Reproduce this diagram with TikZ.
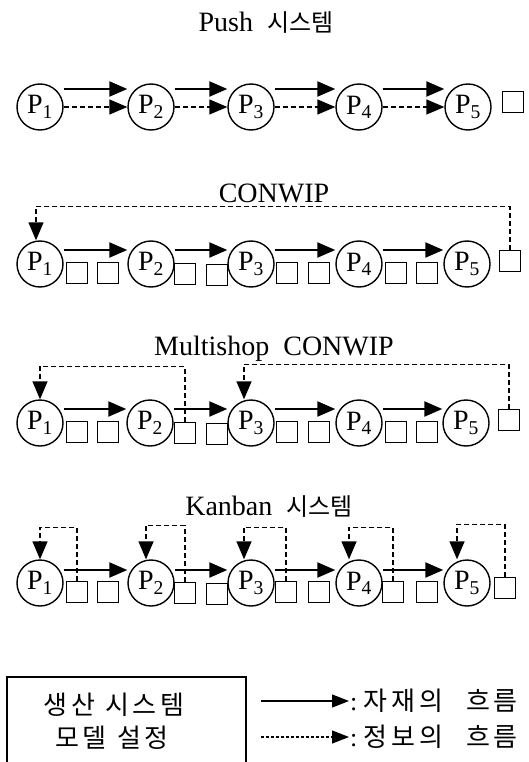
\documentclass[tikz,border=0pt]{standalone}
\usepackage{fontspec}
\setmainfont{Liberation Serif}
\newfontfamily\kor{Noto Sans CJK KR}
\newfontfamily\korwide{Noto Sans CJK KR}[LetterSpace=14]
\usetikzlibrary{arrows.meta}
\newlength{\procsize}
\setlength{\procsize}{46pt}
\newlength{\bufsize}
\setlength{\bufsize}{21pt}

\begin{document}
\begin{tikzpicture}[x=1pt,y=-1pt,
    proc/.style={draw,circle,line width=1.4pt,inner sep=0pt,minimum size=\procsize,font=\fontsize{28}{28}\selectfont},
    buf/.style={draw,line width=1.8pt,inner sep=0pt,minimum size=\bufsize},
    mat/.style={line width=2.2pt,-{Triangle[length=18pt,width=15pt]}},
    info/.style={line width=1.4pt,dash pattern=on 5pt off 3pt,-{Triangle[length=18pt,width=15pt]}},
    heading/.style={anchor=base,font=\fontsize{28}{30}\selectfont}]
\useasboundingbox (0,0) rectangle (529,762);

            \node[heading] (t1) at (266,32) {Push\ \ {\kor\fontsize{24}{26}\selectfont 시스템}};
            \node[proc] (p11) at (40,107) {P\textsubscript{1}};
            \node[proc] (p12) at (151,107) {P\textsubscript{2}};
            \node[proc] (p13) at (251,107) {P\textsubscript{3}};
            \node[proc] (p14) at (359,107) {P\textsubscript{4}};
            \node[proc] (p15) at (468,107) {P\textsubscript{5}};
            \node[buf] (e1) at (513,102) {};
            \draw[mat]([yshift=18pt]p11.east)--([yshift=18pt]p12.west);
            \draw[mat]([yshift=18pt]p12.east)--([yshift=18pt]p13.west);
            \draw[mat]([yshift=18pt]p13.east)--([yshift=18pt]p14.west);
            \draw[mat]([yshift=18pt]p14.east)--([yshift=18pt]p15.west);
            \draw[info](p11.east)--(p12.west);
            \draw[info](p12.east)--(p13.west);
            \draw[info](p13.east)--(p14.west);
            \draw[info](p14.east)--(p15.west);

            \node[heading] (t2) at (274,202) {CONWIP};
            \node[proc] (p21) at (40,264) {P\textsubscript{1}};
            \node[proc] (p22) at (151,264) {P\textsubscript{2}};
            \node[proc] (p23) at (251,264) {P\textsubscript{3}};
            \node[proc] (p24) at (359,264) {P\textsubscript{4}};
            \node[proc] (p25) at (467,264) {P\textsubscript{5}};
            \node[buf] (b21a) at (77,273) {};
            \node[buf] (b21b) at (108,273) {};
            \node[buf] (b22a) at (185,274) {};
            \node[buf] (b22b) at (217,275) {};
            \node[buf] (b23a) at (287,273) {};
            \node[buf] (b23b) at (319,273) {};
            \node[buf] (b24a) at (396,273) {};
            \node[buf] (b24b) at (427,273) {};
            \node[buf] (e2) at (510,261) {};
            \draw[mat]([yshift=14pt]p21.east)--([yshift=14pt]p22.west);
            \draw[mat]([yshift=14pt]p22.east)--([yshift=14pt]p23.west);
            \draw[mat]([yshift=14pt]p23.east)--([yshift=14pt]p24.west);
            \draw[mat]([yshift=14pt]p24.east)--([yshift=14pt]p25.west);
            \draw[info](e2.north)|-([xshift=-4pt,yshift=34pt]p21.north)--([xshift=-4pt]p21.north);

            \node[heading] (t3) at (274,355) {Multishop\ \ CONWIP};
            \node[proc] (p31) at (40,423) {P\textsubscript{1}};
            \node[proc] (p32) at (150,423) {P\textsubscript{2}};
            \node[proc] (p33) at (251,423) {P\textsubscript{3}};
            \node[proc] (p34) at (359,423) {P\textsubscript{4}};
            \node[proc] (p35) at (466,423) {P\textsubscript{5}};
            \node[buf] (b31a) at (77,432) {};
            \node[buf] (b31b) at (108,432) {};
            \node[buf] (b32a) at (185,433) {};
            \node[buf] (b32b) at (217,434) {};
            \node[buf] (b33a) at (287,432) {};
            \node[buf] (b33b) at (319,432) {};
            \node[buf] (b34a) at (396,432) {};
            \node[buf] (b34b) at (427,432) {};
            \node[buf] (e3) at (509,420) {};
            \draw[mat]([yshift=14pt]p31.east)--([yshift=14pt]p32.west);
            \draw[mat]([yshift=14pt]p32.east)--([yshift=14pt]p33.west);
            \draw[mat]([yshift=14pt]p33.east)--([yshift=14pt]p34.west);
            \draw[mat]([yshift=14pt]p34.east)--([yshift=14pt]p35.west);
            \draw[info](b32a.north)|-([yshift=33pt]p31.north)--(p31.north);
            \draw[info](e3.north)|-([xshift=-7pt,yshift=35pt]p33.north)--([xshift=-7pt]p33.north);

            \node[heading] (t4) at (269,515) {Kanban\ \ {\kor\fontsize{24}{26}\selectfont 시스템}};
            \node[proc] (p41) at (40,583) {P\textsubscript{1}};
            \node[proc] (p42) at (151,583) {P\textsubscript{2}};
            \node[proc] (p43) at (251,583) {P\textsubscript{3}};
            \node[proc] (p44) at (359,583) {P\textsubscript{4}};
            \node[proc] (p45) at (467,583) {P\textsubscript{5}};
            \node[buf] (b41a) at (77,592) {};
            \node[buf] (b41b) at (108,592) {};
            \node[buf] (b42a) at (185,593) {};
            \node[buf] (b42b) at (217,594) {};
            \node[buf] (b43a) at (286,592) {};
            \node[buf] (b43b) at (319,592) {};
            \node[buf] (b44a) at (393,592) {};
            \node[buf] (b44b) at (427,592) {};
            \node[buf] (e4) at (505,588) {};
            \draw[mat]([yshift=13pt]p41.east)--([yshift=13pt]p42.west);
            \draw[mat]([yshift=13pt]p42.east)--([yshift=13pt]p43.west);
            \draw[mat]([yshift=13pt]p43.east)--([yshift=13pt]p44.west);
            \draw[mat]([yshift=13pt]p44.east)--([yshift=13pt]p45.west);
            \draw[info](b41a.north)|-([yshift=32pt]p41.north)--(p41.north);
            \draw[info](b42a.north)|-([xshift=-5pt,yshift=34pt]p42.north)--([xshift=-5pt]p42.north);
            \draw[info](b43a.north)|-([xshift=-7pt,yshift=32pt]p43.north)--([xshift=-7pt]p43.north);
            \draw[info](b44a.north)|-([xshift=-10pt,yshift=32pt]p44.north)--([xshift=-10pt]p44.north);
            \draw[info](e4.north)|-([xshift=-10pt,yshift=35pt]p45.north)--([xshift=-10pt]p45.north);

            \draw[line width=1.5pt](7,762)|-(246,677)--(246,762);
            \node[font=\korwide\fontsize{26}{28}\selectfont] (m1) at (114,705) {생산\hspace{0.4em}시스템};
            \node[font=\korwide\fontsize{26}{28}\selectfont] (m2) at (112,738) {모델\hspace{0.4em}설정};
            \coordinate (ls) at (261,701);
            \coordinate (li) at (261,737);
            \node[anchor=west,inner sep=1pt,font=\fontsize{26}{28}\selectfont] (lm) at (349,701) {:\ {\korwide 자재의\hspace{0.9em}흐름}};
            \node[anchor=west,inner sep=1pt,font=\fontsize{26}{28}\selectfont] (lf) at (349,737) {:\ {\korwide 정보의\hspace{0.9em}흐름}};
            \draw[line width=1.3pt,-{Triangle[length=17pt,width=13pt]}](ls)--(lm.west);
            \draw[line width=1.1pt,dash pattern=on 3pt off 2pt,-{Triangle[length=17pt,width=13pt]}](li)--(lf.west);
\end{tikzpicture}
\end{document}
